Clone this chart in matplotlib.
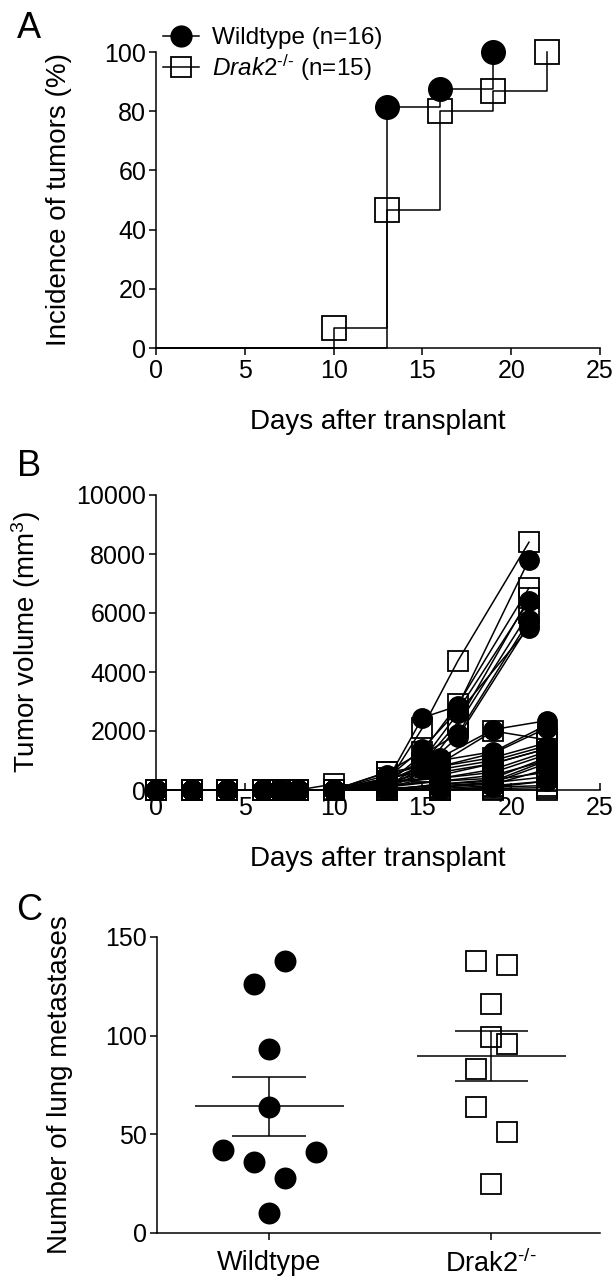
import numpy as np
import matplotlib
matplotlib.use("Agg")
import matplotlib.pyplot as plt
from matplotlib.lines import Line2D

plt.rcParams['font.family'] = ['Liberation Sans', 'DejaVu Sans']
plt.rcParams['mathtext.fontset'] = 'custom'
plt.rcParams['mathtext.rm'] = 'Liberation Sans'
plt.rcParams['mathtext.it'] = 'Liberation Sans:italic'

# ------------------------------------------------------------------
# data
# ------------------------------------------------------------------
# A: tumor incidence (%)
wt_days_a = [13, 16, 19]
wt_incidence = [81.3, 87.5, 100.0]
ko_days_a = [10, 13, 16, 19, 22]
ko_incidence = [6.7, 46.7, 80.0, 86.7, 100.0]

# B: tumor volume per mouse (mm3), two measurement schedules
days_b1 = [0, 2, 4, 6, 7, 8, 10, 13, 15, 17, 21]
days_b2 = [0, 2, 4, 6, 7, 8, 10, 13, 16, 19, 22]

wt_vol_b1 = [
    [0, 0, 0, 0, 0, 0, 0, 300, 2450, 2850, 7800],
    [0, 0, 0, 0, 0, 0, 0, 400, 1400, 2700, 6400],
    [0, 0, 0, 0, 0, 0, 0, 200, 1200, 1900, 5750],
    [0, 0, 0, 0, 0, 0, 0, 350, 1000, 2600, 5500],
    [0, 0, 0, 0, 0, 0, 0, 150, 700, 1800, 5600],
]
ko_vol_b1 = [
    [0, 0, 0, 0, 0, 0, 0, 200, 2100, 4380, 8400],
    [0, 0, 0, 0, 0, 0, 0, 600, 1300, 2900, 6850],
    [0, 0, 0, 0, 0, 0, 200, 100, 900, 2300, 6500],
    [0, 0, 0, 0, 0, 0, 0, 50, 600, 2200, 6000],
]
wt_vol_b2 = [
    [0, 0, 0, 0, 0, 0, 0, 300, 1100, 2050, 2350],
    [0, 0, 0, 0, 0, 0, 0, 500, 1000, 1300, 2200],
    [0, 0, 0, 0, 0, 0, 0, 200, 800, 1250, 2100],
    [0, 0, 0, 0, 0, 0, 0, 400, 700, 1000, 1500],
    [0, 0, 0, 0, 0, 0, 0, 100, 500, 900, 1400],
    [0, 0, 0, 0, 0, 0, 0, 250, 400, 600, 1200],
    [0, 0, 0, 0, 0, 0, 0, 150, 300, 400, 1100],
    [0, 0, 0, 0, 0, 0, 0, 0, 200, 300, 1000],
    [0, 0, 0, 0, 0, 0, 0, 50, 150, 250, 900],
    [0, 0, 0, 0, 0, 0, 0, 0, 100, 200, 700],
    [0, 0, 0, 0, 0, 0, 0, 0, 0, 100, 300],
]
ko_vol_b2 = [
    [0, 0, 0, 0, 0, 0, 0, 600, 900, 2000, 1700],
    [0, 0, 0, 0, 0, 0, 0, 400, 800, 1100, 1600],
    [0, 0, 0, 0, 0, 0, 0, 200, 600, 900, 1400],
    [0, 0, 0, 0, 0, 0, 0, 300, 400, 700, 1300],
    [0, 0, 0, 0, 0, 0, 0, 100, 300, 500, 1000],
    [0, 0, 0, 0, 0, 0, 0, 0, 200, 350, 600],
    [0, 0, 0, 0, 0, 0, 0, 0, 100, 250, 450],
    [0, 0, 0, 0, 0, 0, 0, 0, 50, 150, 300],
    [0, 0, 0, 0, 0, 0, 0, 0, 0, 100, 150],
    [0, 0, 0, 0, 0, 0, 0, 0, 0, 50, 80],
    [0, 0, 0, 0, 0, 0, 0, 0, 0, 0, 0],
]

# C: lung metastases
groups_c = ["Wildtype", r"Drak2$^{\text{-/-}}$"]
wt_mets = [138, 126, 93, 64, 42, 36, 28, 41, 10]
ko_mets = [138, 136, 116, 99.5, 96, 83, 64, 51, 25]
# horizontal scatter layout of the points within each column
wt_jitter = [0.07, -0.07, 0, 0, -0.21, -0.07, 0.07, 0.21, 0]
ko_jitter = [-0.07, 0.07, 0, 0, 0.07, -0.07, -0.07, 0.07, 0]

# ------------------------------------------------------------------
W, H = 614, 1280
fig = plt.figure(figsize=(W / 100, H / 100), dpi=100)

def px_axes(left, right, top, bottom):
    return fig.add_axes([left / W, 1 - bottom / H, (right - left) / W, (bottom - top) / H])

TICK = 18
LAB = 20
LW = 1.1

def style(ax):
    for s in ("top", "right"):
        ax.spines[s].set_visible(False)
    for s in ("left", "bottom"):
        ax.spines[s].set_linewidth(LW)
    ax.tick_params(width=LW, length=5, labelsize=TICK, pad=2)

# ---------------- A ----------------
axA = px_axes(156, 600, 52, 348)
style(axA)
axA.tick_params(axis="x", pad=3)
axA.step([0] + ko_days_a, [0] + ko_incidence, where="post", color="k", lw=LW,
         clip_on=False)
axA.step([0] + wt_days_a, [0] + wt_incidence, where="post", color="k", lw=LW,
         clip_on=False)
axA.plot(ko_days_a, ko_incidence, ls="none", marker="s", ms=17, mfc="none",
         mec="k", mew=1.3, clip_on=False)
axA.plot(wt_days_a, wt_incidence, ls="none", marker="o", ms=17, mfc="k",
         mec="k", clip_on=False)
axA.set_xlim(0, 25)
axA.set_ylim(0, 100)
axA.set_xticks(range(0, 26, 5))
axA.set_yticks(range(0, 101, 20))
axA.set_xlabel("Days after transplant", fontsize=LAB)
axA.set_ylabel("Incidence of tumors (%)", fontsize=LAB)
axA.xaxis.set_label_coords(0.5, -0.205)
axA.yaxis.set_label_coords(-0.19, 0.5)

handles = [
    Line2D([], [], color="k", lw=LW, marker="o", ms=15, mfc="k", mec="k"),
    Line2D([], [], color="k", lw=LW, marker="s", ms=15, mfc="none", mec="k", mew=1.3),
]
fig.legend(handles, ["Wildtype (n=16)", r"$\it{Drak2}^{\text{-/-}}$ (n=15)"],
           loc="upper left", bbox_to_anchor=(163 / W, 1 - 27 / H), frameon=False,
           fontsize=17.5, handlelength=1.5, handletextpad=0.5, labelspacing=0.15,
           borderpad=0, borderaxespad=0)

# ---------------- B ----------------
axB = px_axes(156, 600, 495, 790)
style(axB)
axB.tick_params(axis="x", direction="in", pad=4)
for days, rows in ((days_b1, ko_vol_b1), (days_b2, ko_vol_b2)):
    for r in rows:
        axB.plot(days, r, color="k", lw=LW, marker="s", ms=14, mfc="none",
                 mec="k", mew=1.3, clip_on=False)
for days, rows in ((days_b1, wt_vol_b1), (days_b2, wt_vol_b2)):
    for r in rows:
        axB.plot(days, r, color="k", lw=LW, marker="o", ms=14, mfc="k",
                 mec="k", clip_on=False)
axB.set_xlim(0, 25)
axB.set_ylim(0, 10000)
axB.set_xticks(range(0, 26, 5))
axB.set_yticks(range(0, 10001, 2000))
axB.set_xlabel("Days after transplant", fontsize=LAB)
axB.set_ylabel("Tumor volume (mm$^3$)", fontsize=LAB)
axB.xaxis.set_label_coords(0.5, -0.19)
axB.yaxis.set_label_coords(-0.255, 0.5)

# ---------------- C ----------------
axC = px_axes(157, 600, 937, 1233)
style(axC)
axC.tick_params(axis="x", labelsize=19.5, pad=7)
for i, (vals, jit, mk, ms, fc) in enumerate((
        (wt_mets, wt_jitter, "o", 14.5, "k"),
        (ko_mets, ko_jitter, "s", 15, "none"))):
    axC.plot(np.array(jit) + i, vals, ls="none", marker=mk, ms=ms, mfc=fc,
             mec="k", mew=1.3, clip_on=False)
    m = np.mean(vals)
    sem = np.std(vals, ddof=1) / np.sqrt(len(vals))
    axC.hlines(m, i - 0.335, i + 0.335, color="k", lw=LW)
    axC.hlines([m - sem, m + sem], i - 0.165, i + 0.165, color="k", lw=LW)
    axC.vlines(i, m - sem, m + sem, color="k", lw=LW)
axC.set_xlim(-0.505, 1.49)
axC.set_ylim(0, 150)
axC.set_xticks([0, 1])
axC.set_xticklabels(groups_c)
axC.set_yticks(range(0, 151, 50))
axC.set_ylabel("Number of lung metastases", fontsize=LAB)
axC.yaxis.set_label_coords(-0.19, 0.5)

for txt, y in (("A", 28), ("B", 466), ("C", 910)):
    fig.text(29 / W, 1 - y / H, txt, fontsize=26, ha="center", va="center")

fig.savefig("out.png", dpi=100)
